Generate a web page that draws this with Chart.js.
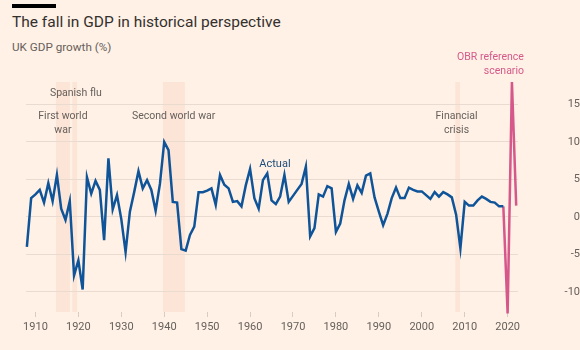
<!DOCTYPE html>
<html>
<head>
<meta charset="utf-8">
<script src="https://cdn.jsdelivr.net/npm/chart.js@4"></script>
<style>
  html, body { margin: 0; padding: 0; background: #fff1e5; }
  #wrap { position: relative; width: 580px; height: 350px; overflow: hidden; background: #fff1e5; }
  #bar { position: absolute; left: 12px; top: 4px; width: 44px; height: 4px; background: #000; }
  #title { position: absolute; left: 12px; top: 12px; font: 15.5px Roboto, sans-serif; line-height: 20px; color: #33302e; white-space: nowrap; }
  #subtitle { position: absolute; left: 12px; top: 39px; font: 11.7px Roboto, sans-serif; line-height: 16px; color: #66605c; white-space: nowrap; }
  canvas { position: absolute; left: 0; top: 0; }
</style>
</head>
<body>
<div id="wrap">
  <div id="bar"></div>
  <div id="title">The fall in GDP in historical perspective</div>
  <div id="subtitle">UK GDP growth (%)</div>
  <canvas id="chart" width="580" height="350"></canvas>
</div>
<script>
// UK GDP growth, % per year
const firstYear = 1908;
const actualGrowth = [
  -4.0, 2.5, 3.0, 3.6, 1.9, 4.5, 2.1, 5.6, 1.1, -0.4,      // 1908-1917
  2.1, -7.8, -5.8, -9.7, 5.3, 3.1, 4.8, 3.6, -3.1, 7.8,     // 1918-1927
  1.0, 2.9, -0.3, -4.7, 0.7, 3.3, 6.1, 3.8, 4.9, 3.6,       // 1928-1937
  0.8, 4.4, 10.0, 8.9, 2.0, 1.9, -4.3, -4.5, -2.4, -1.3,    // 1938-1947
  3.3, 3.3, 3.5, 3.8, 1.6, 5.6, 4.3, 3.8, 2.0, 2.1,         // 1948-1957
  1.4, 4.2, 6.4, 2.5, 1.1, 4.9, 5.8, 2.2, 1.7, 2.7,         // 1958-1967
  5.6, 2.0, 2.8, 3.6, 4.4, 6.7, -2.6, -1.5, 3.0, 2.7,       // 1968-1977
  4.1, 3.8, -2.0, -0.9, 2.2, 4.4, 2.4, 4.2, 3.2, 5.5,       // 1978-1987
  5.8, 2.6, 0.7, -1.1, 0.4, 2.5, 3.9, 2.5, 2.5, 3.9,        // 1988-1997
  3.6, 3.4, 3.4, 2.9, 2.4, 3.3, 2.7, 3.3, 3.0, 2.6,         // 1998-2007
  0.3, -4.2, 2.0, 1.5, 1.5, 2.2, 2.7, 2.4, 2.0, 1.9,        // 2008-2017
  1.4, 1.4                                                   // 2018-2019
];
const actualYears = actualGrowth.map((v, i) => firstYear + i);

const obrYears = [2019, 2020, 2021, 2022];
const obrGrowth = [1.4, -12.9, 18.0, 1.5];

const xTicks = [1910, 1920, 1930, 1940, 1950, 1960, 1970, 1980, 1990, 2000, 2010, 2020];
const yTicks = [-10, -5, 0, 5, 10, 15];

// shaded periods [start, end] in years
const periodNames = ['First world war', 'Spanish flu', 'Second world war', 'Financial crisis'];
const periodStart = [1914.8, 1918.6, 1939.7, 2007.8];
const periodEnd = [1918.0, 1919.7, 1944.8, 2008.9];

// annotations: text lines, anchored at (year, value)
const notes = [
  { lines: ['Spanish flu'], x: 1919.4, y: 16.5, color: '#66605c', align: 'center' },
  { lines: ['First world', 'war'], x: 1916.4, y: 13.4, color: '#66605c', align: 'center' },
  { lines: ['Second world war'], x: 1942.2, y: 13.4, color: '#66605c', align: 'center' },
  { lines: ['Actual'], x: 1965.8, y: 7.0, color: '#1e4c7c', align: 'center', size: 11 },
  { lines: ['Financial', 'crisis'], x: 2008.1, y: 13.4, color: '#66605c', align: 'center' },
  { lines: ['OBR reference', 'scenario'], x: 2023.8, y: 21.3, color: '#d4598a', align: 'right' }
];

const FONT = 'Roboto, sans-serif';

const shadePlugin = {
    id: 'shade',
    beforeDraw(chart) {
        const { ctx, chartArea, scales: { x } } = chart;
        ctx.save();
        ctx.fillStyle = '#fce4d6';
        periodStart.forEach((s, i) => {
            const x0 = x.getPixelForValue(s);
            const x1 = x.getPixelForValue(periodEnd[i]);
            ctx.fillRect(x0, chartArea.top, x1 - x0, chartArea.bottom - chartArea.top);
        });
        ctx.restore();
    }
};

const notesPlugin = {
    id: 'notes',
    afterDatasetsDraw(chart) {
        const { ctx, scales: { x, y } } = chart;
        ctx.save();
        ctx.textBaseline = 'middle';
        notes.forEach(n => {
            const size = n.size || 10.5;
            ctx.font = size + 'px ' + FONT;
            ctx.fillStyle = n.color;
            ctx.textAlign = n.align;
            const px = x.getPixelForValue(n.x);
            let py = y.getPixelForValue(n.y);
            n.lines.forEach(line => {
                ctx.fillText(line, px, py);
                py += 14;
            });
        });
        ctx.restore();
    }
};

const ctx = document.getElementById('chart').getContext('2d');
new Chart(ctx, {
    type: 'line',
    data: {
        datasets: [
            {
                label: 'Actual',
                data: actualYears.map((yr, i) => ({ x: yr, y: actualGrowth[i] })),
                borderColor: '#0f5499',
                borderWidth: 2.5,
                pointRadius: 0,
                tension: 0,
                clip: false
            },
            {
                label: 'OBR reference scenario',
                data: obrYears.map((yr, i) => ({ x: yr, y: obrGrowth[i] })),
                borderColor: '#d6578a',
                borderWidth: 2.5,
                pointRadius: 0,
                tension: 0,
                clip: false
            }
        ]
    },
    options: {
        responsive: false,
        animation: false,
        layout: { padding: { left: 26, top: 82, right: 0, bottom: 0 } },
        plugins: {
            legend: { display: false },
            tooltip: { enabled: false }
        },
        scales: {
            x: {
                type: 'linear',
                min: 1907.8,
                max: 2022.3,
                afterBuildTicks: s => { s.ticks = xTicks.map(v => ({ value: v })); },
                afterFit: s => { s.height = 38; },
                border: { display: false },
                grid: { drawOnChartArea: false, tickLength: 5, tickColor: '#d9cdc2' },
                ticks: {
                    color: '#66605c',
                    font: { family: FONT, size: 11 },
                    padding: 4,
                    maxRotation: 0,
                    autoSkip: false,
                    callback: v => String(v)
                }
            },
            y: {
                position: 'right',
                min: -12.7,
                max: 18,
                afterBuildTicks: s => { s.ticks = yTicks.map(v => ({ value: v })); },
                afterFit: s => { s.width = 62.5; },
                border: { display: false },
                grid: { color: '#e9dbcf', drawTicks: false },
                ticks: {
                    color: '#66605c',
                    font: { family: FONT, size: 11 },
                    padding: 0,
                    crossAlign: 'far'
                }
            }
        }
    },
    plugins: [shadePlugin, notesPlugin]
});
</script>
</body>
</html>
